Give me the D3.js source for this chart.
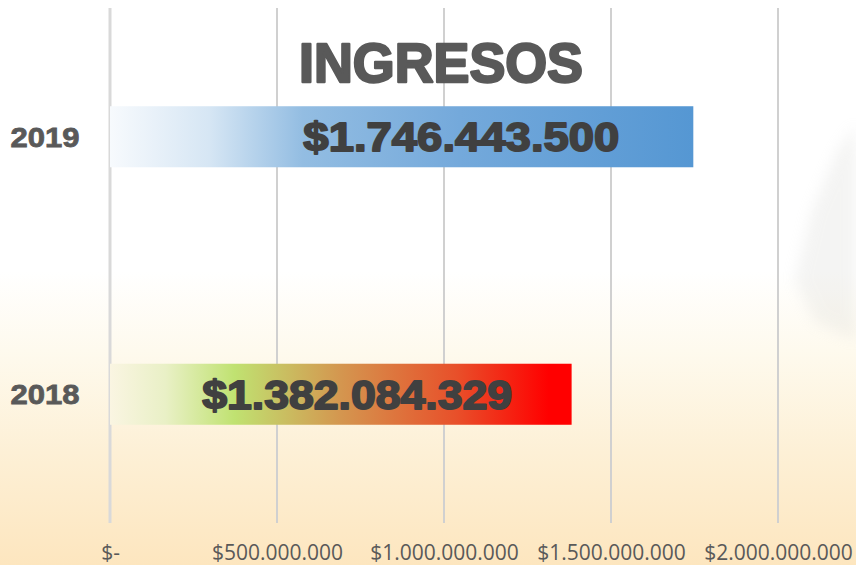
<!DOCTYPE html>
<html><head><meta charset="utf-8">
<script src="https://cdn.jsdelivr.net/npm/d3@7"></script>
<style>html,body{margin:0;padding:0;background:#fff;}svg{display:block;}</style>
</head><body>
<script>
// ---- data ----
const categories = ["2019", "2018"];
const values = [1746443500, 1382084329];
const valueLabels = ["$1.746.443.500", "$1.382.084.329"];
const labelCenters = [1052000000, 740000000]; // label centre position in data units
const tickValues = [0, 500000000, 1000000000, 1500000000, 2000000000];
const tickLabels = ["$-", "$500.000.000", "$1.000.000.000", "$1.500.000.000", "$2.000.000.000"];
const title = "INGRESOS";

const W = 856, H = 565;
const svg = d3.select("body").append("svg").attr("width", W).attr("height", H);
const defs = svg.append("defs");

// background gradient
const bg = defs.append("linearGradient").attr("id","bg").attr("x1",0).attr("y1",0).attr("x2",0).attr("y2",1);
[[0,"#ffffff"],[0.48,"#ffffff"],[0.62,"#fefaee"],[0.8,"#fdf0d6"],[1,"#fde6bf"]]
  .forEach(s=>bg.append("stop").attr("offset",s[0]).attr("stop-color",s[1]));
svg.append("rect").attr("width",W).attr("height",H).attr("fill","url(#bg)");

// faint watermark shape on right
const blur = defs.append("filter").attr("id","blur").attr("x","-50%").attr("y","-50%").attr("width","200%").attr("height","200%");
blur.append("feGaussianBlur").attr("stdDeviation",7);
svg.append("path").attr("d","M856,125 L838,150 L812,210 L795,280 L815,322 L856,340 Z")
  .attr("fill","#cfcfca").attr("opacity",0.22).attr("filter","url(#blur)");

// bar gradients
const g1 = defs.append("linearGradient").attr("id","g2019");
[[0,"#f7fafd"],[0.17,"#d6e6f4"],[0.33,"#93bde2"],[0.6,"#74a9db"],[1,"#5597d3"]]
  .forEach(s=>g1.append("stop").attr("offset",s[0]).attr("stop-color",s[1]));
const g2 = defs.append("linearGradient").attr("id","g2018");
[[0,"#faf5e2"],[0.12,"#e9f0c6"],[0.27,"#c0e271"],[0.5,"#d4964f"],[0.75,"#e8502a"],[0.95,"#ff0000"],[1,"#ff0000"]]
  .forEach(s=>g2.append("stop").attr("offset",s[0]).attr("stop-color",s[1]));
const fills = ["url(#g2019)","url(#g2018)"];

const margin = {left:110, right:78, top:8, bottom:42};
const x = d3.scaleLinear().domain([0,2000000000]).range([margin.left, W - margin.right]);
const y = d3.scaleBand().domain(categories).range([margin.top, H - margin.bottom]).paddingInner(0.763).paddingOuter(0.3815);

// gridlines
svg.append("g").selectAll("line").data(tickValues).join("line")
  .attr("x1",d=>x(d)).attr("x2",d=>x(d))
  .attr("y1",margin.top).attr("y2",H-margin.bottom)
  .attr("stroke",(d,i)=>i===0?"#d9d9d9":"#d0d0d0")
  .attr("stroke-width",(d,i)=>i===0?3:2);

// title
svg.append("text").text(title)
  .attr("x",x(1000000000)-3).attr("y",82)
  .attr("text-anchor","middle")
  .attr("font-family","'Liberation Sans', Arial, sans-serif").attr("font-weight","bold")
  .attr("font-size",55).attr("fill","#595959")
  .attr("stroke","#595959").attr("stroke-width",2.4).attr("stroke-linejoin","round")
  .attr("textLength",284).attr("lengthAdjust","spacingAndGlyphs");

// bars
svg.append("g").selectAll("rect").data(values).join("rect")
  .attr("x",x(0)).attr("y",(d,i)=>y(categories[i]))
  .attr("width",d=>x(d)-x(0)).attr("height",y.bandwidth())
  .attr("fill",(d,i)=>fills[i]);

// value labels
svg.append("g").selectAll("text").data(valueLabels).join("text")
  .text(d=>d)
  .attr("x",(d,i)=>x(labelCenters[i]))
  .attr("y",(d,i)=>y(categories[i])+y.bandwidth()/2+14.5)
  .attr("text-anchor","middle")
  .attr("font-family","'Liberation Sans', Arial, sans-serif").attr("font-weight","bold")
  .attr("font-size",40).attr("fill","#404040")
  .attr("stroke","#404040").attr("stroke-width",1.8).attr("stroke-linejoin","round")
  .attr("textLength",(d,i)=>i===0?316:310).attr("lengthAdjust","spacingAndGlyphs");

// category labels
svg.append("g").selectAll("text").data(categories).join("text")
  .text(d=>d)
  .attr("x",45).attr("y",d=>y(d)+y.bandwidth()/2+10)
  .attr("text-anchor","middle")
  .attr("font-family","'Liberation Sans', Arial, sans-serif").attr("font-weight","bold")
  .attr("font-size",28).attr("fill","#595959")
  .attr("stroke","#595959").attr("stroke-width",0.8)
  .attr("textLength",69).attr("lengthAdjust","spacingAndGlyphs");

// x axis labels
const xAxis = d3.axisBottom(x).tickValues(tickValues).tickFormat((d,i)=>tickLabels[i]).tickSize(0).tickPadding(0);
const ax = svg.append("g").attr("transform",`translate(0,${H-margin.bottom})`).call(xAxis);
ax.select(".domain").remove();
ax.selectAll("text").attr("dy",null).attr("y",37)
  .attr("font-family","'Open Sans', sans-serif").attr("font-size",21).attr("fill","#595959");
</script>
</body></html>
